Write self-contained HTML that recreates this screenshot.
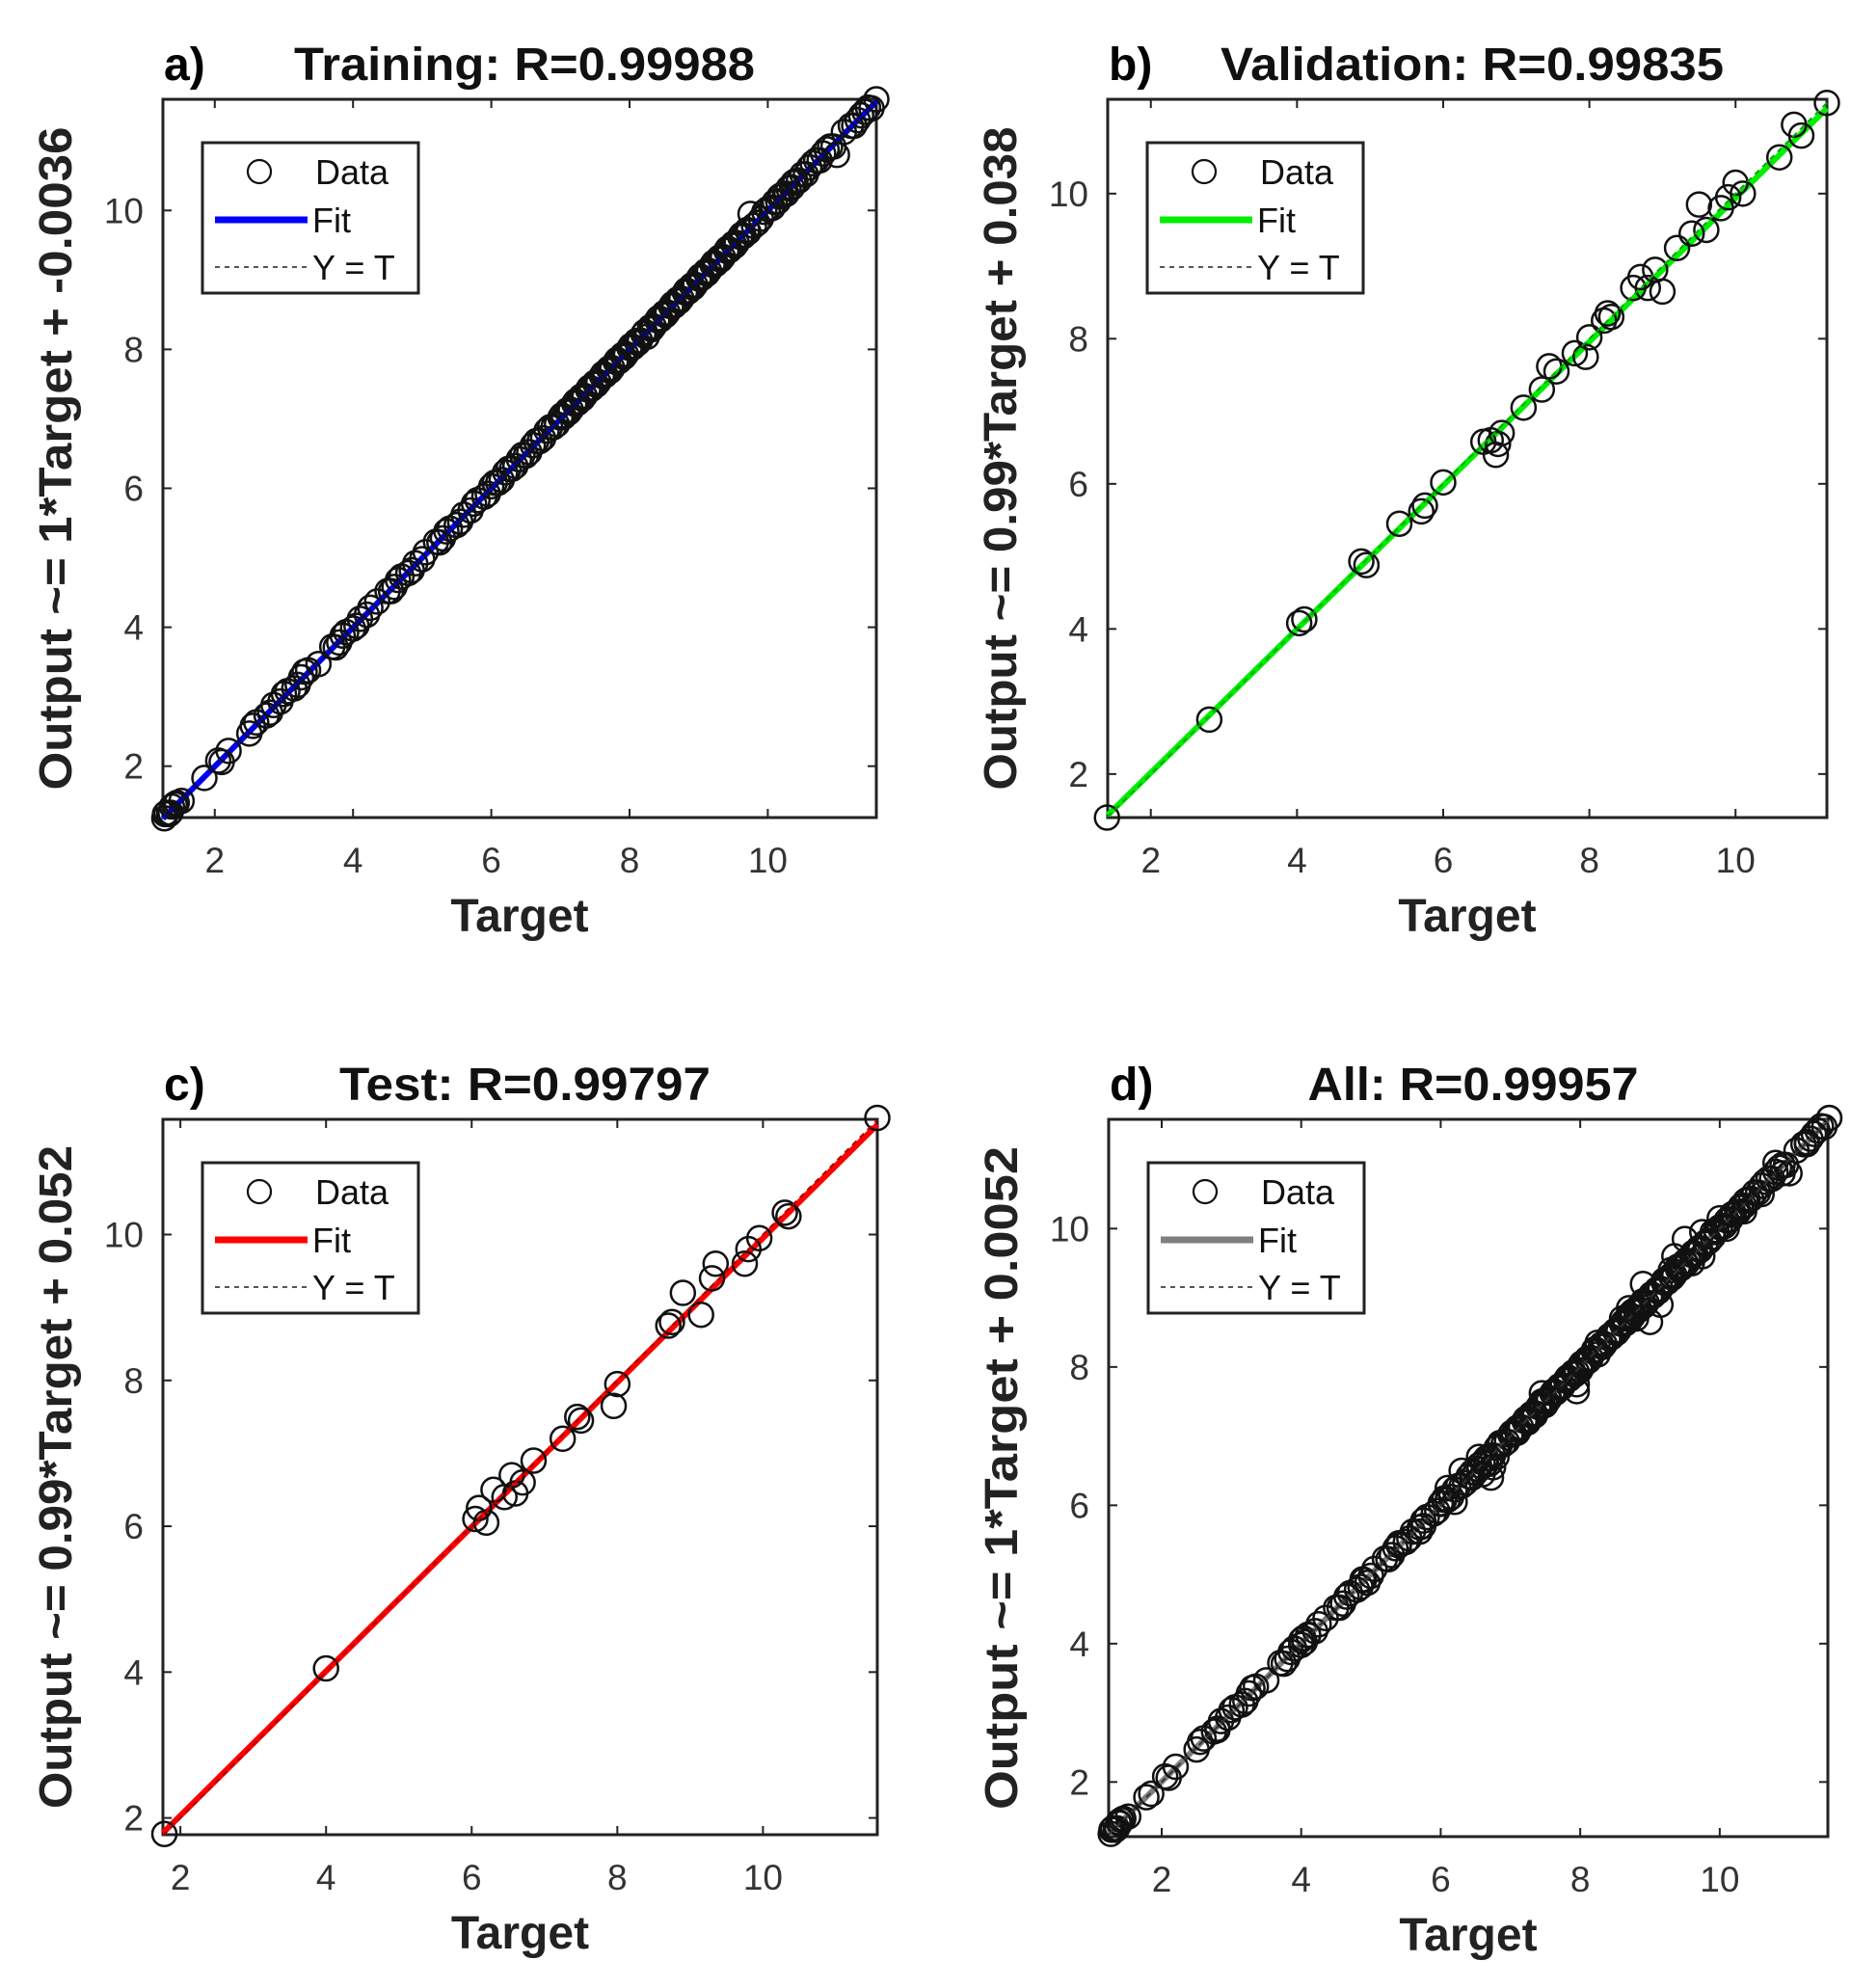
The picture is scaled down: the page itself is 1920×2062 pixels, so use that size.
<!DOCTYPE html>
<html><head><meta charset="utf-8"><style>
html,body{margin:0;padding:0;background:#fff}
svg{display:block}
text{font-family:"Liberation Sans",Arial,sans-serif}
</style></head><body>
<svg id="fig" width="1920" height="2062" viewBox="0 0 1920 2062" xmlns="http://www.w3.org/2000/svg"></svg>
<script>
// ---- data ----
const trainT = [1.27,1.30,1.34,1.38,1.45,1.52,1.85,2.05,2.2,2.5,2.6,2.75,2.85,2.95,3.05,3.15,3.25,3.35,3.5,3.7,3.8,3.9,4.0,4.1,4.2,4.35,4.5,4.6,4.7,4.8,4.9,5.0,5.2,5.3,5.4,5.5,5.6,5.7,5.8,5.9,6.0,6.1,6.2,6.3,6.4,6.5,6.6,6.7,6.8,6.9,7.0,7.05,7.1,7.15,7.2,7.25,7.3,7.35,7.4,7.45,7.5,7.55,7.6,7.65,7.7,7.75,7.8,7.85,7.9,7.95,8.0,8.05,8.1,8.15,8.2,8.25,8.3,8.35,8.4,8.45,8.5,8.55,8.6,8.65,8.7,8.75,8.8,8.85,8.9,8.95,9.0,9.05,9.1,9.15,9.2,9.25,9.3,9.35,9.4,9.45,9.5,9.55,9.6,9.65,9.7,9.75,9.8,9.9,10.0,10.05,10.1,10.15,10.2,10.25,10.3,10.35,10.4,10.45,10.5,10.6,10.7,10.8,10.9,11.0,11.2,11.3,11.35,11.4,11.57,
 1.28,1.36,1.42,2.1,2.55,2.8,3.0,3.2,3.3,3.75,3.85,4.05,4.25,4.55,4.65,4.85,5.05,5.25,5.35,5.55,5.75,5.95,6.05,6.15,6.25,6.35,6.45,6.55,6.65,6.75,6.85,6.95,7.02,7.12,7.22,7.32,7.42,7.52,7.62,7.72,7.82,7.92,8.02,8.12,8.22,8.32,8.42,8.52,8.62,8.72,8.82,8.92,9.02,9.12,9.22,9.32,9.42,9.52,9.62,9.72,9.85,9.95,10.07,10.17,10.27,10.37,10.55,10.65,10.75,10.85,10.95,11.1,11.25,11.45,11.5];
const trainO = [1.25,1.33,1.31,1.42,1.47,1.50,1.83,2.08,2.22,2.47,2.63,2.73,2.88,2.93,3.08,3.12,3.28,3.38,3.47,3.72,3.78,3.93,3.98,4.12,4.18,4.37,4.52,4.58,4.73,4.78,4.92,4.98,5.23,5.28,5.42,5.47,5.62,5.68,5.83,5.88,6.03,6.08,6.23,6.28,6.42,6.47,6.62,6.68,6.83,6.88,7.02,7.03,7.12,7.13,7.22,7.23,7.32,7.33,7.42,7.43,7.52,7.53,7.62,7.63,7.72,7.73,7.82,7.83,7.92,7.93,8.02,8.03,8.12,8.13,8.22,8.18,8.32,8.33,8.42,8.43,8.52,8.53,8.62,8.63,8.72,8.73,8.82,8.83,8.92,8.93,9.02,9.03,9.12,9.13,9.22,9.23,9.32,9.33,9.42,9.43,9.52,9.53,9.62,9.63,9.72,9.95,9.78,9.88,10.02,10.03,10.12,10.13,10.22,10.23,10.32,10.33,10.42,10.43,10.52,10.62,10.72,10.82,10.92,10.8,11.22,11.3,11.37,11.42,11.6,
 1.31,1.33,1.45,2.06,2.58,2.77,3.04,3.17,3.36,3.71,3.88,4.02,4.28,4.52,4.68,4.82,5.08,5.22,5.38,5.52,5.78,5.92,6.08,6.12,6.28,6.32,6.48,6.52,6.68,6.72,6.88,6.92,7.05,7.09,7.25,7.29,7.45,7.49,7.65,7.69,7.85,7.89,8.05,8.09,8.25,8.29,8.45,8.49,8.65,8.69,8.85,8.89,9.05,9.09,9.25,9.29,9.45,9.49,9.65,9.69,9.82,9.98,10.04,10.2,10.24,10.4,10.52,10.68,10.72,10.88,10.92,11.13,11.22,11.48,11.47];
const valT = [1.40,2.80,4.03,4.10,4.88,4.95,5.40,5.70,5.75,6.00,6.55,6.65,6.72,6.75,6.80,7.10,7.35,7.45,7.55,7.80,7.95,8.00,8.20,8.25,8.30,8.60,8.70,8.80,8.90,9.00,9.20,9.40,9.50,9.60,9.80,9.90,10.00,10.10,10.60,10.80,10.90,11.25];
const valO = [1.40,2.75,4.08,4.13,4.93,4.88,5.45,5.62,5.70,6.02,6.58,6.60,6.40,6.55,6.70,7.05,7.30,7.62,7.55,7.80,7.75,8.02,8.25,8.35,8.30,8.70,8.85,8.70,8.95,8.65,9.25,9.45,9.85,9.50,9.80,9.95,10.15,10.00,10.50,10.95,10.80,11.25];
const testT = [1.78,4.00,6.05,6.10,6.20,6.30,6.45,6.55,6.60,6.70,6.85,7.25,7.45,7.50,7.95,8.00,8.70,8.75,8.90,9.15,9.30,9.35,9.75,9.80,9.95,10.30,10.35,11.57];
const testO = [1.78,4.05,6.10,6.25,6.05,6.50,6.40,6.70,6.45,6.60,6.90,7.20,7.50,7.45,7.65,7.95,8.75,8.80,9.20,8.90,9.40,9.60,9.60,9.80,9.95,10.30,10.25,11.60];
const allT = trainT.concat(valT, testT);
const allO = trainO.concat(valO, testO);
const xTicks = [2,4,6,8,10];
const yTicks = [2,4,6,8,10];

const NS = 'http://www.w3.org/2000/svg';
const svg = document.getElementById('fig');
function mk(tag, attrs, parent){
  const e = document.createElementNS(NS, tag);
  for (const k in attrs) e.setAttribute(k, attrs[k]);
  (parent||svg).appendChild(e);
  return e;
}
const panels = [
  {id:'a',label:'a)',title:'Training: R=0.99988',ylab:'Output ~= 1*Target + -0.0036',L:169,R:909,T:103,B:848,xmin:1.25,xmax:11.57,ymin:1.26,ymax:11.6,tx:trainT,ty:trainO,m:1.0,b:-0.0036,color:'#0000ff',dashColor:'#0000aa',tl:478},
  {id:'b',label:'b)',title:'Validation: R=0.99835',ylab:'Output ~= 0.99*Target + 0.038',L:1149,R:1895,T:103,B:848,xmin:1.41,xmax:11.25,ymin:1.40,ymax:11.3,tx:valT,ty:valO,m:0.99,b:0.038,color:'#00ee00',dashColor:'#00aa00',tl:522},
  {id:'c',label:'c)',title:'Test: R=0.99797',ylab:'Output ~= 0.99*Target + 0.052',L:169,R:910,T:1161,B:1903,xmin:1.76,xmax:11.57,ymin:1.77,ymax:11.58,tx:testT,ty:testO,m:0.99,b:0.052,color:'#ff0000',dashColor:'#aa0000',tl:385},
  {id:'d',label:'d)',title:'All: R=0.99957',ylab:'Output ~= 1*Target + 0.0052',L:1150,R:1896,T:1161,B:1905,xmin:1.24,xmax:11.55,ymin:1.21,ymax:11.58,tx:allT,ty:allO,m:1.0,b:0.0052,color:'#7f7f7f',dashColor:'#333333',tl:343}
];

panels.forEach(p=>{
  const g = mk('g',{});
  
  
  const sx = v => p.L + (v-p.xmin)/(p.xmax-p.xmin)*(p.R-p.L);
  const sy = v => p.B - (v-p.ymin)/(p.ymax-p.ymin)*(p.B-p.T);
  const cx = (p.L+p.R)/2, cy = (p.T+p.B)/2;
  const lab = mk('text',{x:p.L+1,y:p.T-20,'font-size':48,'font-weight':'bold',fill:'#000'},g);
  lab.textContent = p.label;
  
  
  const tt = mk('text',{x:cx+5,y:p.T-20,'font-size':48,'font-weight':'bold','text-anchor':'middle',fill:'#111',textLength:p.tl,lengthAdjust:'spacingAndGlyphs'},g);
  tt.textContent = p.title;
  
  
  const box = mk('rect',{x:p.L,y:p.T,width:p.R-p.L,height:p.B-p.T,fill:'#fff',stroke:'#222','stroke-width':3},g);
  
  
  xTicks.forEach(v=>{
    const x = sx(v);
    mk('line',{x1:x,x2:x,y1:p.B,y2:p.B-9,stroke:'#222','stroke-width':2},g);
    mk('line',{x1:x,x2:x,y1:p.T,y2:p.T+9,stroke:'#222','stroke-width':2},g);
    const t = mk('text',{x:x,y:p.B+57,'font-size':37,'text-anchor':'middle',fill:'#333'},g);
    t.textContent = v;
    
    
  });
  yTicks.forEach(v=>{
    const y = sy(v);
    mk('line',{x1:p.L,x2:p.L+9,y1:y,y2:y,stroke:'#222','stroke-width':2},g);
    mk('line',{x1:p.R,x2:p.R-9,y1:y,y2:y,stroke:'#222','stroke-width':2},g);
    const t = mk('text',{x:p.L-20,y:y+13,'font-size':37,'text-anchor':'end',fill:'#333'},g);
    t.textContent = v;
    
    
  });
  const xl = mk('text',{x:cx,y:p.B+118,'font-size':48,'font-weight':'bold','text-anchor':'middle',fill:'#222'},g);
  xl.textContent = 'Target';
  
  
  const yx = p.L-95;
  const yl = mk('text',{x:yx,y:cy,'font-size':48,'font-weight':'bold','text-anchor':'middle',fill:'#222',transform:'rotate(-90 '+yx+' '+cy+')',textLength:688,lengthAdjust:'spacingAndGlyphs'},g);
  yl.textContent = p.ylab;
  
  
  const x0 = p.xmin, x1 = p.xmax;
  const fit = mk('line',{x1:sx(x0),y1:sy(p.m*x0+p.b),x2:sx(x1),y2:sy(p.m*x1+p.b),stroke:p.color,'stroke-width':6},g);
  
  
  for (let i=0;i<p.tx.length;i++){
    const c = mk('circle',{cx:sx(p.tx[i]),cy:sy(p.ty[i]),r:12.5,fill:'none',stroke:'#111','stroke-width':2.5},g);
    
    
  }
  const yt = mk('line',{x1:sx(x0),y1:sy(x0),x2:sx(x1),y2:sy(x1),stroke:p.dashColor,'stroke-width':2,'stroke-dasharray':'6 5'},g);
  
  
  const lx = p.L+41, ly = p.T+45;
  const lg = mk('g',{},g);
  
  
  mk('rect',{x:lx,y:ly,width:224,height:156,fill:'#fff',stroke:'#222','stroke-width':3},lg);
  const c = mk('circle',{cx:lx+59,cy:ly+30,r:12,fill:'none',stroke:'#111','stroke-width':2.2},lg);
  
  
  mk('line',{x1:lx+13,x2:lx+109,y1:ly+80,y2:ly+80,stroke:p.color,'stroke-width':7},lg);
  mk('line',{x1:lx+13,x2:lx+109,y1:ly+129,y2:ly+129,stroke:'#555','stroke-width':2,'stroke-dasharray':'5 5'},lg);
  [['Data',ly+43,117],['Fit',ly+93,114],['Y = T',ly+142,114]].forEach(r=>{
    const t = mk('text',{x:lx+r[2],y:r[1],'font-size':36,fill:'#111'},lg);
    t.textContent = r[0];
    
    
  });
});
</script>
</body></html>
